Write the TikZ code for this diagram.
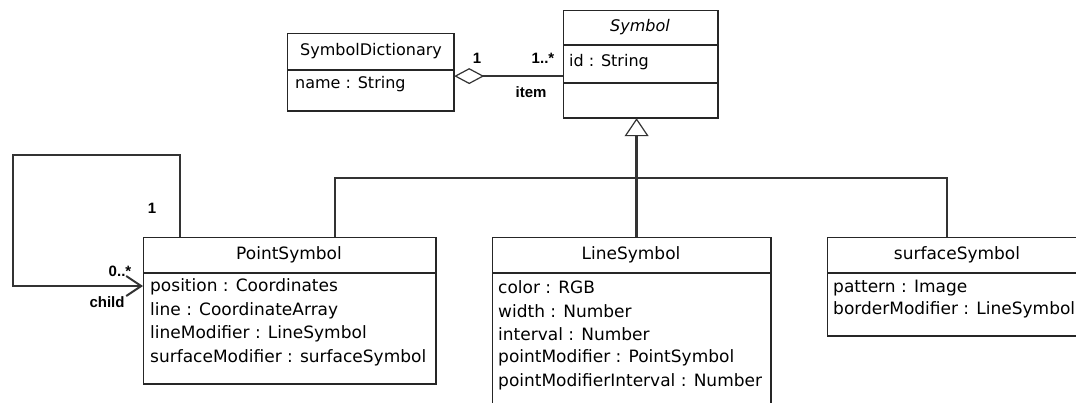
\documentclass[tikz,border=0pt]{standalone}
\usepackage{fontspec}
\setsansfont{DejaVu Sans}
\newfontfamily\labelfont{Liberation Sans}
\usetikzlibrary{arrows.meta}
\tikzset{
  classbox/.style={draw=black!85, line width=1.2pt, fill=white, inner sep=0pt, anchor=north west},
  classname/.style={inner sep=0pt, font=\sffamily\fontsize{17}{20}\selectfont},
  attr/.style={anchor=west, inner sep=0pt, font=\sffamily\fontsize{17}{20}\selectfont},
  small/.style={font=\sffamily\fontsize{16}{19}\selectfont},
  mult/.style={inner sep=0pt, font=\labelfont\bfseries\fontsize{15}{17}\selectfont},
  shade/.style={draw=black!85, line width=2.4pt},
  link/.style={draw=black!80, line width=2.6pt},
}
\begin{document}
\begin{tikzpicture}[x=1pt, y=-1pt]
  \useasboundingbox (0,0) rectangle (1076,402);
  \clip (0,0) rectangle (1076,402);
  % classes
  \node[classbox, minimum width=166pt, minimum height=77pt] (dict) at (287,33) {};
  \draw[shade] (dict.north east) -- (dict.south east) -- (dict.south west);
  \draw[line width=1.2pt, draw=black!85] (287,70) -- (453,70);
  \node[classname, small] (dictname) at (371,51) {SymbolDictionary};
  \node[attr, small] (dictattr) at (295,84) {name : String};

  \node[classbox, minimum width=154pt, minimum height=107pt] (sym) at (563,10) {};
  \draw[shade] (sym.north east) -- (sym.south east) -- (sym.south west);
  \draw[line width=1.2pt, draw=black!85] (563,45) -- (717,45) (563,83) -- (717,83);
  \node[classname, small] (symname) at (640,27) {\itshape Symbol};
  \node[attr, small] (symattr) at (569,62) {id : String};

  \node[classbox, minimum width=292pt, minimum height=146pt] (point) at (143,237) {};
  \draw[shade] (point.north east) -- (point.south east) -- (point.south west);
  \draw[line width=1.2pt, draw=black!85] (143,273) -- (435,273);
  \node[classname] (pointname) at (289,255) {PointSymbol};
  \node[attr] at (150,287) {position : Coordinates};
  \node[attr] at (150,311) {line : CoordinateArray};
  \node[attr] at (150,334) {lineModifier : LineSymbol};
  \node[attr] at (150,358) {surfaceModifier : surfaceSymbol};

  \node[classbox, minimum width=278pt, minimum height=200pt] (line) at (492,237) {};
  \draw[shade] (line.north east) -- (line.south east);
  \draw[line width=1.2pt, draw=black!85] (492,273) -- (770,273);
  \node[classname] (linename) at (631,255) {LineSymbol};
  \node[attr] at (498,287) {color : RGB};
  \node[attr] at (498,311) {width : Number};
  \node[attr] at (498,334) {interval : Number};
  \node[attr] at (498,358) {pointModifier : PointSymbol};
  \node[attr] at (498,382) {pointModifierInterval : Number};

  \node[classbox, minimum width=260pt, minimum height=98pt] (surf) at (827,237) {};
  \draw[shade] (surf.south east) -- (surf.south west);
  \draw[line width=1.2pt, draw=black!85] (827,273) -- (1087,273);
  \node[classname] (surfname) at (957,255) {surfaceSymbol};
  \node[attr] at (833,288) {pattern : Image};
  \node[attr] at (833,310) {borderModifier : LineSymbol};

  % aggregation
  \draw[link, {Diamond[open, length=30pt, width=16pt, line width=1.2pt]}-]
    ([yshift=-4pt]dict.east) -- ([yshift=-4pt]dict.east -| sym.west);
  \node[mult] at (477,58) {1};
  \node[mult] at (543,58) {1..*};
  \node[mult] at (531,92) {item};

  % generalization
  \coordinate (genbar) at (636,178);
  \draw[link, -{Triangle[open, length=18pt, width=24pt, line width=1.2pt]}]
    ([xshift=5pt]line.north) -- ([xshift=-4pt]sym.south);
  \draw[link] ([xshift=192pt]point.north west) |- (genbar) -| ([xshift=120pt]surf.north west);

  % self association
  \coordinate (loop) at (13,155);
  \draw[link, -{Straight Barb[length=15pt, width=20pt, line width=2pt]}]
    ([xshift=37pt]point.north west) |- (loop) |- ([yshift=-49pt]point.north west);
  \node[mult] at (152,208) {1};
  \node[mult] at (120,271) {0..*};
  \node[mult] at (107,302) {child};
\end{tikzpicture}
\end{document}
